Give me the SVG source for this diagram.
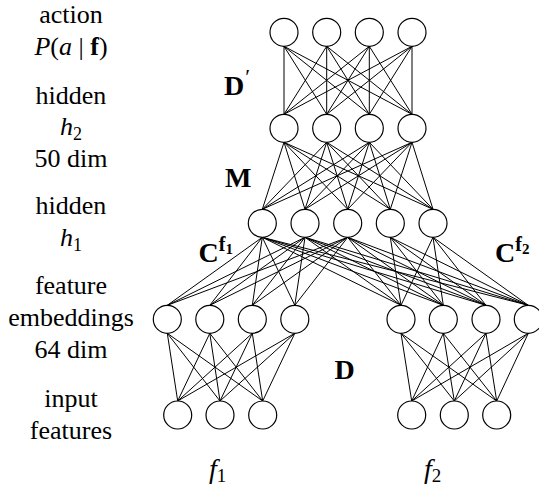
<svg xmlns="http://www.w3.org/2000/svg" width="539" height="487" viewBox="0 0 539 487">
<style>
.n{fill:#fff;stroke:#000;stroke-width:1.2}
.c line{stroke:#000;stroke-width:1}
.t{font-family:"Liberation Serif","Times New Roman",serif;font-size:26px;fill:#000;text-anchor:middle}
.b{font-family:"Liberation Serif","Times New Roman",serif;font-size:28px;font-weight:bold;fill:#000}
.m{font-family:"Liberation Serif","Times New Roman",serif;font-size:28px;font-style:italic;fill:#000}
</style>
<rect width="539" height="487" fill="#fff"/>
<g id="connectors" class="c">
<g id="Dprime">
<line x1="284" y1="46.3" x2="284" y2="114.3"/><line x1="284" y1="46.3" x2="326.7" y2="114.3"/><line x1="284" y1="46.3" x2="369.3" y2="114.3"/><line x1="284" y1="46.3" x2="412" y2="114.3"/>
<line x1="326.7" y1="46.3" x2="284" y2="114.3"/><line x1="326.7" y1="46.3" x2="326.7" y2="114.3"/><line x1="326.7" y1="46.3" x2="369.3" y2="114.3"/><line x1="326.7" y1="46.3" x2="412" y2="114.3"/>
<line x1="369.3" y1="46.3" x2="284" y2="114.3"/><line x1="369.3" y1="46.3" x2="326.7" y2="114.3"/><line x1="369.3" y1="46.3" x2="369.3" y2="114.3"/><line x1="369.3" y1="46.3" x2="412" y2="114.3"/>
<line x1="412" y1="46.3" x2="284" y2="114.3"/><line x1="412" y1="46.3" x2="326.7" y2="114.3"/><line x1="412" y1="46.3" x2="369.3" y2="114.3"/><line x1="412" y1="46.3" x2="412" y2="114.3"/>
</g>
<g id="M">
<line x1="284" y1="142.3" x2="262.3" y2="209.3"/><line x1="284" y1="142.3" x2="305" y2="209.3"/><line x1="284" y1="142.3" x2="347.7" y2="209.3"/><line x1="284" y1="142.3" x2="390.3" y2="209.3"/><line x1="284" y1="142.3" x2="433" y2="209.3"/>
<line x1="326.7" y1="142.3" x2="262.3" y2="209.3"/><line x1="326.7" y1="142.3" x2="305" y2="209.3"/><line x1="326.7" y1="142.3" x2="347.7" y2="209.3"/><line x1="326.7" y1="142.3" x2="390.3" y2="209.3"/><line x1="326.7" y1="142.3" x2="433" y2="209.3"/>
<line x1="369.3" y1="142.3" x2="262.3" y2="209.3"/><line x1="369.3" y1="142.3" x2="305" y2="209.3"/><line x1="369.3" y1="142.3" x2="347.7" y2="209.3"/><line x1="369.3" y1="142.3" x2="390.3" y2="209.3"/><line x1="369.3" y1="142.3" x2="433" y2="209.3"/>
<line x1="412" y1="142.3" x2="262.3" y2="209.3"/><line x1="412" y1="142.3" x2="305" y2="209.3"/><line x1="412" y1="142.3" x2="347.7" y2="209.3"/><line x1="412" y1="142.3" x2="390.3" y2="209.3"/><line x1="412" y1="142.3" x2="433" y2="209.3"/>
</g>
<g id="Cf1">
<line x1="262.3" y1="237.3" x2="167.3" y2="305.3"/><line x1="262.3" y1="237.3" x2="209.8" y2="305.3"/><line x1="262.3" y1="237.3" x2="252.3" y2="305.3"/><line x1="262.3" y1="237.3" x2="294.8" y2="305.3"/>
<line x1="305" y1="237.3" x2="167.3" y2="305.3"/><line x1="305" y1="237.3" x2="209.8" y2="305.3"/><line x1="305" y1="237.3" x2="252.3" y2="305.3"/><line x1="305" y1="237.3" x2="294.8" y2="305.3"/>
<line x1="347.7" y1="237.3" x2="167.3" y2="305.3"/><line x1="347.7" y1="237.3" x2="209.8" y2="305.3"/><line x1="347.7" y1="237.3" x2="252.3" y2="305.3"/><line x1="347.7" y1="237.3" x2="294.8" y2="305.3"/>
</g>
<g id="Cf2">
<line x1="262.3" y1="237.3" x2="401" y2="305.3"/><line x1="262.3" y1="237.3" x2="443.3" y2="305.3"/><line x1="262.3" y1="237.3" x2="486" y2="305.3"/><line x1="262.3" y1="237.3" x2="528.3" y2="305.3"/>
<line x1="305" y1="237.3" x2="401" y2="305.3"/><line x1="305" y1="237.3" x2="443.3" y2="305.3"/><line x1="305" y1="237.3" x2="486" y2="305.3"/><line x1="305" y1="237.3" x2="528.3" y2="305.3"/>
<line x1="347.7" y1="237.3" x2="401" y2="305.3"/><line x1="347.7" y1="237.3" x2="443.3" y2="305.3"/><line x1="347.7" y1="237.3" x2="486" y2="305.3"/><line x1="347.7" y1="237.3" x2="528.3" y2="305.3"/>
<line x1="390.3" y1="237.3" x2="401" y2="305.3"/><line x1="390.3" y1="237.3" x2="443.3" y2="305.3"/><line x1="390.3" y1="237.3" x2="486" y2="305.3"/><line x1="390.3" y1="237.3" x2="528.3" y2="305.3"/>
<line x1="433" y1="237.3" x2="401" y2="305.3"/><line x1="433" y1="237.3" x2="443.3" y2="305.3"/><line x1="433" y1="237.3" x2="486" y2="305.3"/><line x1="433" y1="237.3" x2="528.3" y2="305.3"/>
</g>
<g id="D1">
<line x1="167.3" y1="333.3" x2="177.7" y2="401"/><line x1="167.3" y1="333.3" x2="220" y2="401"/><line x1="167.3" y1="333.3" x2="262.7" y2="401"/>
<line x1="209.8" y1="333.3" x2="177.7" y2="401"/><line x1="209.8" y1="333.3" x2="220" y2="401"/><line x1="209.8" y1="333.3" x2="262.7" y2="401"/>
<line x1="252.3" y1="333.3" x2="177.7" y2="401"/><line x1="252.3" y1="333.3" x2="220" y2="401"/><line x1="252.3" y1="333.3" x2="262.7" y2="401"/>
<line x1="294.8" y1="333.3" x2="177.7" y2="401"/><line x1="294.8" y1="333.3" x2="220" y2="401"/><line x1="294.8" y1="333.3" x2="262.7" y2="401"/>
</g>
<g id="D2">
<line x1="401" y1="333.3" x2="411.7" y2="401"/><line x1="401" y1="333.3" x2="454.3" y2="401"/><line x1="401" y1="333.3" x2="496.7" y2="401"/>
<line x1="443.3" y1="333.3" x2="411.7" y2="401"/><line x1="443.3" y1="333.3" x2="454.3" y2="401"/><line x1="443.3" y1="333.3" x2="496.7" y2="401"/>
<line x1="486" y1="333.3" x2="411.7" y2="401"/><line x1="486" y1="333.3" x2="454.3" y2="401"/><line x1="486" y1="333.3" x2="496.7" y2="401"/>
<line x1="528.3" y1="333.3" x2="411.7" y2="401"/><line x1="528.3" y1="333.3" x2="454.3" y2="401"/><line x1="528.3" y1="333.3" x2="496.7" y2="401"/>
</g>
</g>
<g id="action-layer">
<g id="a1"><circle class="n" cx="284" cy="32.3" r="14"/></g>
<g id="a2"><circle class="n" cx="326.7" cy="32.3" r="14"/></g>
<g id="a3"><circle class="n" cx="369.3" cy="32.3" r="14"/></g>
<g id="a4"><circle class="n" cx="412" cy="32.3" r="14"/></g>
</g>
<g id="h2-layer">
<g id="h2_1"><circle class="n" cx="284" cy="128.3" r="14"/></g>
<g id="h2_2"><circle class="n" cx="326.7" cy="128.3" r="14"/></g>
<g id="h2_3"><circle class="n" cx="369.3" cy="128.3" r="14"/></g>
<g id="h2_4"><circle class="n" cx="412" cy="128.3" r="14"/></g>
</g>
<g id="h1-layer">
<g id="h1_1"><circle class="n" cx="262.3" cy="223.3" r="14"/></g>
<g id="h1_2"><circle class="n" cx="305" cy="223.3" r="14"/></g>
<g id="h1_3"><circle class="n" cx="347.7" cy="223.3" r="14"/></g>
<g id="h1_4"><circle class="n" cx="390.3" cy="223.3" r="14"/></g>
<g id="h1_5"><circle class="n" cx="433" cy="223.3" r="14"/></g>
</g>
<g id="emb1-layer">
<g id="e1_1"><circle class="n" cx="167.3" cy="319.3" r="14"/></g>
<g id="e1_2"><circle class="n" cx="209.8" cy="319.3" r="14"/></g>
<g id="e1_3"><circle class="n" cx="252.3" cy="319.3" r="14"/></g>
<g id="e1_4"><circle class="n" cx="294.8" cy="319.3" r="14"/></g>
</g>
<g id="emb2-layer">
<g id="e2_1"><circle class="n" cx="401" cy="319.3" r="14"/></g>
<g id="e2_2"><circle class="n" cx="443.3" cy="319.3" r="14"/></g>
<g id="e2_3"><circle class="n" cx="486" cy="319.3" r="14"/></g>
<g id="e2_4"><circle class="n" cx="528.3" cy="319.3" r="14"/></g>
</g>
<g id="in1-layer">
<g id="i1_1"><circle class="n" cx="177.7" cy="415" r="14"/></g>
<g id="i1_2"><circle class="n" cx="220" cy="415" r="14"/></g>
<g id="i1_3"><circle class="n" cx="262.7" cy="415" r="14"/></g>
</g>
<g id="in2-layer">
<g id="i2_1"><circle class="n" cx="411.7" cy="415" r="14"/></g>
<g id="i2_2"><circle class="n" cx="454.3" cy="415" r="14"/></g>
<g id="i2_3"><circle class="n" cx="496.7" cy="415" r="14"/></g>
</g>
<g id="left-labels">
<text class="t" x="71" y="22.7">action</text>
<text class="t" x="71" y="55" font-size="27"><tspan font-style="italic">P</tspan>(<tspan font-style="italic">a</tspan> | <tspan font-weight="bold">f</tspan>)</text>
<text class="t" x="71" y="103.5">hidden</text>
<text class="t" x="71" y="135"><tspan font-style="italic">h</tspan><tspan font-size="18" dy="5">2</tspan></text>
<text class="t" x="71" y="167">50 dim</text>
<text class="t" x="71" y="214.3">hidden</text>
<text class="t" x="71" y="245.5"><tspan font-style="italic">h</tspan><tspan font-size="18" dy="5">1</tspan></text>
<text class="t" x="71" y="294.3">feature</text>
<text class="t" x="71" y="326.3">embeddings</text>
<text class="t" x="71" y="358.3">64 dim</text>
<text class="t" x="71" y="406.5">input</text>
<text class="t" x="71" y="438.5">features</text>
</g>
<g id="matrix-labels">
<text class="b" x="224" y="95">D<tspan font-size="22" font-weight="normal" dx="1" dy="-11">′</tspan></text>
<text class="b" x="225" y="187">M</text>
<text class="b" x="198.5" y="262">C<tspan font-size="20" dy="-11">f</tspan><tspan font-size="15" dy="3">1</tspan></text>
<text class="b" x="495" y="262">C<tspan font-size="20" dy="-11">f</tspan><tspan font-size="15" dy="3">2</tspan></text>
<text class="b" x="334.5" y="378.5">D</text>
</g>
<g id="bottom-labels">
<text class="m" x="209" y="478">f<tspan font-style="normal" font-size="19" dy="4">1</tspan></text>
<text class="m" x="424" y="478">f<tspan font-style="normal" font-size="19" dy="4">2</tspan></text>
</g>
</svg>
